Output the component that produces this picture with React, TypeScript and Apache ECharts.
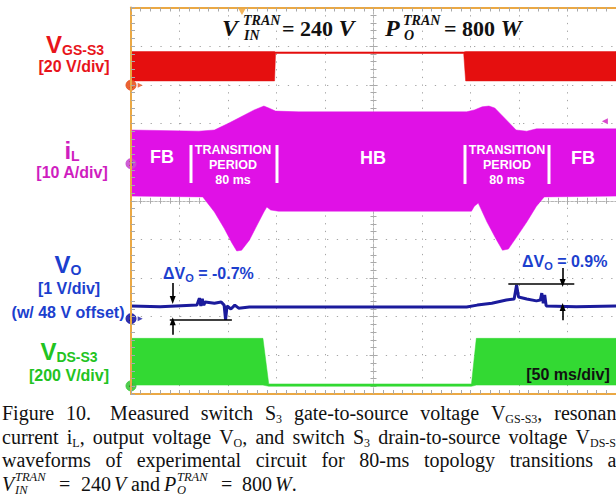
import React, { useEffect, useRef } from "react";
import * as echarts from "echarts";

// Horizontal axis: time in ms relative to the screen centre (50 ms/div, 10 div).
// Vertical axis: screen divisions, -5 (bottom) .. +5 (top).

// Ch1  V_GS-S3 envelope (20 V/div)
const vgsT = [-250, -102, -101, 93, 95, 250];
const vgsHi = [3.86, 3.86, 3.85, 3.85, 3.86, 3.86];
const vgsLo = [3.1, 3.1, 3.81, 3.81, 3.1, 3.1];

// Ch3  iL envelope (10 A/div)
const ilTopT = [-250, -180, -164, -149, -139, -123, -113, -108, -101, -77, 96, 104, 112, 119, 125, 132, 139, 147, 158, 168, 250];
const ilTop = [1.83, 1.8, 1.83, 2.01, 2.14, 2.35, 2.45, 2.4, 2.32, 2.3, 2.3, 2.35, 2.43, 2.45, 2.4, 2.22, 2.04, 1.83, 1.8, 1.86, 1.86];
const ilBotT = [-250, -176, -164, -154, -146, -141, -136, -128, -120, -113, -110, -106, -98, 101, 104, 108, 117, 127, 133, 139, 147, 158, 168, 176, 250];
const ilBot = [0.12, 0.1, -0.29, -0.71, -1.09, -1.3, -1.28, -1.02, -0.63, -0.29, -0.16, -0.24, -0.27, -0.27, -0.14, -0.06, -0.55, -1.02, -1.28, -1.25, -0.96, -0.55, -0.14, 0.1, 0.12];

// Ch2  Vo (1 V/div, 48 V offset)
const voT = [-250, -220, -182, -179.5, -178, -176.5, -175, -173.5, -164, -157, -154, -152.5, -151, -147, -143, -139, -128, -98, 0, 96, 107, 122, 137, 145, 147.5, 149.5, 158, 168, 172, 173.5, 175, 176.5, 178, 209, 250];
const voV = [-2.72, -2.74, -2.7, -2.52, -2.72, -2.54, -2.7, -2.62, -2.65, -2.62, -2.7, -3.08, -2.72, -2.8, -2.7, -2.78, -2.75, -2.75, -2.75, -2.75, -2.7, -2.65, -2.57, -2.54, -2.18, -2.49, -2.54, -2.59, -2.57, -2.39, -2.65, -2.44, -2.72, -2.74, -2.72];

// Ch4  V_DS-S3 envelope (200 V/div)
const vdsT = [-250, -114, -108, 101, 106, 250];
const vdsHi = [-3.56, -3.56, -4.74, -4.74, -3.56, -3.56];
const vdsLo = [-4.77, -4.77, -4.8, -4.8, -4.77, -4.77];

// channel ground markers
const markerLevels = [2.99, 0.96, -3.05, -4.79];
const markerNames = ["1", "3", "2", "4"];
const markerColors = ["#e8521e", "#c94bd0", "#1c1ca8", "#3cc83c"];

// ΔVo annotations
const spanT = [[-210, -146], [139, 207]];
const spanLevel = [-3.07, -2.16];
const arrowT = [-207, -207, 195, 195];
const arrowFrom = [-2.13, -3.47, -1.74, -3.09];
const arrowTo = [-2.57, -3.12, -2.13, -2.75];

const SANS = '"Liberation Sans", Arial, sans-serif';
const SERIF = '"Liberation Serif", "Times New Roman", serif';
const RED = "#e8141b";
const MAG = "#cf1dbf";
const BLUE = "#1c3fce";
const GREEN = "#22c322";
const ORANGE = "#eaa844";
const TICK = "#a9a9a9";

function bandSeries(topT: number[], top: number[], botT: number[], bot: number[], color: string, z: number) {
  return {
    type: "custom",
    coordinateSystem: "cartesian2d",
    xAxisIndex: 0,
    yAxisIndex: 0,
    silent: true,
    z,
    data: [[topT[0], top[0]]],
    renderItem: (_p: any, api: any) => {
      const pts: number[][] = [];
      for (let i = 0; i < topT.length; i++) pts.push(api.coord([topT[i], top[i]]));
      for (let i = botT.length - 1; i >= 0; i--) pts.push(api.coord([botT[i], bot[i]]));
      return { type: "polygon", shape: { points: pts }, style: { fill: color, stroke: color, lineWidth: 0.5 } };
    },
  };
}

function txt(x: number, y: number, text: string, rich: any, align = "center") {
  return { type: "text", x, y, z: 100, silent: true, style: { text, rich, textAlign: align, textVerticalAlign: "middle" } };
}

const richSans = (color: string) => ({
  v: { fontSize: 24, fontWeight: "bold", fontFamily: SANS, fill: color, lineHeight: 26 },
  s: { fontSize: 14, fontWeight: "bold", fontFamily: SANS, fill: color, lineHeight: 12, verticalAlign: "bottom" },
  a: { fontSize: 16, fontWeight: "bold", fontFamily: SANS, fill: color, lineHeight: 20 },
  d: { fontSize: 16, fontWeight: "bold", fontFamily: SANS, fill: color, lineHeight: 20 },
  ds: { fontSize: 11, fontWeight: "bold", fontFamily: SANS, fill: color, lineHeight: 10, verticalAlign: "bottom" },
});

const whiteRich = {
  b: { fontSize: 18, fontWeight: "bold", fontFamily: SANS, fill: "#fff" },
  t: { fontSize: 12.5, fontWeight: "bold", fontFamily: SANS, fill: "#fff" },
};

const titleRich = {
  i: { fontSize: 24, fontWeight: "bold", fontStyle: "italic", fontFamily: SERIF, fill: "#111", lineHeight: 26 },
  n: { fontSize: 22, fontWeight: "bold", fontFamily: SERIF, fill: "#111", lineHeight: 26 },
  k: { fontSize: 14, fontWeight: "bold", fontStyle: "italic", fontFamily: SERIF, fill: "#111", lineHeight: 11 },
};

const capRich = {
  m: { fontSize: 20, fontFamily: SERIF, fill: "#111", lineHeight: 24 },
  s: { fontSize: 12, fontFamily: SERIF, fill: "#111", lineHeight: 12, verticalAlign: "bottom" },
  i: { fontSize: 20, fontStyle: "italic", fontFamily: SERIF, fill: "#111", lineHeight: 20 },
  k: { fontSize: 12.5, fontStyle: "italic", fontFamily: SERIF, fill: "#111", lineHeight: 11 },
};

// caption words (justified lines)
const captionJustified: [string, string][][][] = [
  [[["m", "Figure"]], [["m", "10."]], [["m", "Measured"]], [["m", "switch"]], [["m", "S"], ["s", "3"]], [["m", "gate-to-source"]], [["m", "voltage"]], [["m", "V"], ["s", "GS-S3"], ["m", ","]], [["m", "resonant"]]],
  [[["m", "current"]], [["m", "i"], ["s", "L"], ["m", ","]], [["m", "output"]], [["m", "voltage"]], [["m", "V"], ["s", "O"], ["m", ","]], [["m", "and"]], [["m", "switch"]], [["m", "S"], ["s", "3"]], [["m", "drain-to-source"]], [["m", "voltage"]], [["m", "V"], ["s", "DS-S3"]]],
  [[["m", "waveforms"]], [["m", "of"]], [["m", "experimental"]], [["m", "circuit"]], [["m", "for"]], [["m", "80-ms"]], [["m", "topology"]], [["m", "transitions"]], [["m", "at"]]],
];
const captionY = [413, 436.5, 460, 484];

function captionElements() {
  const cv = document.createElement("canvas").getContext("2d") as CanvasRenderingContext2D;
  const fonts: any = { m: `20px ${SERIF}`, s: `12px ${SERIF}` };
  const wOf = (segs: [string, string][]) =>
    segs.reduce((a, [st, t]) => {
      cv.font = fonts[st];
      return a + cv.measureText(t).width;
    }, 0);
  const els: any[] = [];
  const L = 2, R = 622;
  captionJustified.forEach((words, li) => {
    const widths = words.map(wOf);
    const total = widths.reduce((a, b) => a + b, 0);
    const weights = words.map((_, i) => (i === 0 ? 0 : li === 0 && i === 2 ? 1.6 : 1));
    const wsum = weights.reduce((a, b) => a + b, 0);
    const gap = (R - L - total) / wsum;
    let x = L;
    words.forEach((segs, i) => {
      x += weights[i] * gap;
      els.push(txt(x, captionY[li], segs.map(([st, t]) => `{${st}|${t}}`).join(""), capRich, "left"));
      x += widths[i];
    });
  });
  const y4 = captionY[3];
  const line4: [number, number, string][] = [
    [2, y4, "{i|V}"], [15, y4 - 7, "{k|TRAN}"], [15, y4 + 6, "{k|IN}"], [59, y4, "{m|=}"], [81, y4, "{m|240}"], [114, y4, "{i|V}"],
    [131, y4, "{m|and}"], [164, y4, "{i|P}"], [177, y4 - 7, "{k|TRAN}"], [177, y4 + 6, "{k|O}"], [221, y4, "{m|=}"], [242, y4, "{m|800}"],
    [275, y4, "{i|W}{m|.}"],
  ];
  line4.forEach(([x, y, t]) => els.push(txt(x, y, t, capRich, "left")));
  return els;
}

function buildOption() {
  const borderX = (pos: string) => ({
    type: "value", min: -250, max: 250, interval: 50, position: pos, z: 10,
    axisLine: { show: true, onZero: false, lineStyle: { color: ORANGE, width: 2 } },
    axisTick: { show: true, inside: true, length: 4, lineStyle: { color: TICK } },
    minorTick: { show: true, splitNumber: 5, length: 4, lineStyle: { color: TICK } },
    axisLabel: { show: false }, splitLine: { show: false },
  });
  const centreX = (inside: boolean) => ({
    type: "value", min: -250, max: 250, interval: 50, position: "bottom", z: 0,
    axisLine: { show: true, onZero: true, onZeroAxisIndex: 0, lineStyle: { color: "#b5b5b5", width: 1, type: [2, 2] } },
    axisTick: { show: true, inside, length: 4, lineStyle: { color: TICK } },
    minorTick: { show: true, splitNumber: 5, length: 3, lineStyle: { color: TICK } },
    axisLabel: { show: false }, splitLine: { show: false },
  });
  const centreY = (inside: boolean) => ({
    type: "value", min: -5, max: 5, interval: 1, position: "left", z: 0,
    axisLine: { show: true, onZero: true, onZeroAxisIndex: 0, lineStyle: { color: "#b5b5b5", width: 1, type: [2, 2] } },
    axisTick: { show: true, inside, length: 4, lineStyle: { color: TICK } },
    minorTick: { show: true, splitNumber: 5, length: 3, lineStyle: { color: TICK } },
    axisLabel: { show: false }, splitLine: { show: false },
  });

  const markLineData: any[] = [];
  spanT.forEach(([a, b], i) => {
    markLineData.push([{ coord: [a, spanLevel[i]], symbol: "none" }, { coord: [b, spanLevel[i]], symbol: "none" }]);
  });
  arrowT.forEach((t, i) => {
    markLineData.push([{ coord: [t, arrowFrom[i]], symbol: "none" }, { coord: [t, arrowTo[i]], symbol: "triangle", symbolSize: [6, 8] }]);
  });

  const graphics: any[] = [
    // channel labels
    txt(75, 44, "{v|V}{s|GS-S3}", richSans(RED)),
    txt(74, 66, "{a|[20 V/div]}", richSans(RED)),
    txt(72, 150, "{v|i}{s|L}", richSans(MAG)),
    txt(72, 172, "{a|[10 A/div]}", richSans(MAG)),
    txt(68, 264, "{v|V}{s|O}", richSans(BLUE)),
    txt(69, 288, "{a|[1 V/div]}", richSans(BLUE)),
    txt(68, 312, "{a|(w/ 48 V offset)}", richSans(BLUE)),
    txt(69, 351, "{v|V}{s|DS-S3}", richSans(GREEN)),
    txt(69, 375, "{a|[200 V/div]}", richSans(GREEN)),
    // ΔVo annotations
    txt(163, 273, "{d|ΔV}{ds|O}{d| = -0.7%}", richSans(BLUE), "left"),
    txt(522, 261, "{d|ΔV}{ds|O}{d| = 0.9%}", richSans(BLUE), "left"),
    txt(568, 374, "{a|[50 ms/div]}", richSans("#111")),
    // white labels inside iL envelope
    txt(162, 157, "{b|FB}", whiteRich),
    txt(233, 150, "{t|TRANSITION}", whiteRich),
    txt(233, 165, "{t|PERIOD}", whiteRich),
    txt(233, 180, "{t|80 ms}", whiteRich),
    txt(373, 158, "{b|HB}", whiteRich),
    txt(507, 150, "{t|TRANSITION}", whiteRich),
    txt(507, 165, "{t|PERIOD}", whiteRich),
    txt(507, 180, "{t|80 ms}", whiteRich),
    txt(583, 158, "{b|FB}", whiteRich),
    { type: "rect", z: 100, silent: true, shape: { x: 189.5, y: 145, width: 3, height: 38 }, style: { fill: "#fff" } },
    { type: "rect", z: 100, silent: true, shape: { x: 275.5, y: 145, width: 3, height: 38 }, style: { fill: "#fff" } },
    { type: "rect", z: 100, silent: true, shape: { x: 463.5, y: 145, width: 3, height: 39 }, style: { fill: "#fff" } },
    { type: "rect", z: 100, silent: true, shape: { x: 547.5, y: 145, width: 3, height: 39 }, style: { fill: "#fff" } },
    // title
    txt(222, 28, "{i|V}", titleRich, "left"),
    txt(243, 20, "{k|TRAN}", titleRich, "left"),
    txt(244, 35, "{k|IN}", titleRich, "left"),
    txt(282, 28, "{n|= 240 }{i|V}", titleRich, "left"),
    txt(385, 28, "{i|P}", titleRich, "left"),
    txt(403, 20, "{k|TRAN}", titleRich, "left"),
    txt(404, 35, "{k|O}", titleRich, "left"),
    txt(444, 28, "{n|= 800 }{i|W}", titleRich, "left"),
    ...captionElements(),
  ];

  return {
    animation: false,
    backgroundColor: "#fff",
    grid: { left: 131, top: 7.5, width: 489.4, height: 386.5, containLabel: false },
    xAxis: [
      {
        type: "value", min: -250, max: 250, interval: 50, position: "bottom", z: 0,
        axisLine: { show: false, onZero: false }, axisTick: { show: false }, axisLabel: { show: false },
        splitLine: { show: true, lineStyle: { color: "#a6a6a6", width: 1, type: [1.3, 6.4] } },
      },
      borderX("top"),
      borderX("bottom"),
      centreX(true),
      centreX(false),
    ],
    yAxis: [
      {
        type: "value", min: -5, max: 5, interval: 1, position: "left", z: 0,
        axisLine: { show: false, onZero: false }, axisTick: { show: false }, axisLabel: { show: false },
        splitLine: { show: true, lineStyle: { color: "#a6a6a6", width: 1, type: [1.3, 8.5] } },
      },
      {
        type: "value", min: -5, max: 5, interval: 1, position: "left", z: 10,
        axisLine: { show: true, onZero: false, lineStyle: { color: ORANGE, width: 2 } },
        axisTick: { show: true, inside: true, length: 4, lineStyle: { color: TICK } },
        minorTick: { show: true, splitNumber: 5, length: 4, lineStyle: { color: TICK } },
        axisLabel: { show: false }, splitLine: { show: false },
      },
      centreY(true),
      centreY(false),
    ],
    series: [
      bandSeries(vgsT, vgsHi, vgsT, vgsLo, "#e50f0f", 2),
      bandSeries(ilTopT, ilTop, ilBotT, ilBot, "#e011e6", 2),
      bandSeries(vdsT, vdsHi, vdsT, vdsLo, "#33d933", 2),
      {
        type: "line", xAxisIndex: 0, yAxisIndex: 0, z: 4, silent: true,
        data: voT.map((t, i) => [t, voV[i]]),
        showSymbol: false, symbol: "none",
        lineStyle: { color: "#1b1b9c", width: 3 },
        markLine: {
          silent: true, symbol: ["none", "none"], label: { show: false },
          lineStyle: { color: "#000", width: 1.6, type: "solid" },
          emphasis: { disabled: true },
          data: markLineData,
        },
      },
      {
        type: "scatter", xAxisIndex: 0, yAxisIndex: 0, z: 6, silent: true, clip: false,
        symbol: "circle", symbolSize: 10,
        data: markerLevels.map((lv, i) => ({
          value: [-250, lv],
          itemStyle: { color: markerColors[i], borderColor: markerColors[i], borderWidth: 1, opacity: 0.9 },
          label: { show: true, formatter: markerNames[i], position: "inside", fontSize: 7, color: "#222", fontFamily: SANS },
        })),
      },
      {
        type: "scatter", xAxisIndex: 0, yAxisIndex: 0, z: 6, silent: true, clip: false,
        symbol: "triangle",
        data: [
          { value: [-240.5, markerLevels[0]], symbolRotate: -90, symbolSize: [5, 5], itemStyle: { color: markerColors[0] } },
          { value: [-240.5, markerLevels[2]], symbolRotate: -90, symbolSize: [5, 5], itemStyle: { color: markerColors[2] } },
          { value: [-135.6, 5], symbolRotate: 180, symbolSize: [8, 7], symbolOffset: [0, 4], itemStyle: { color: "#f0a030" } },
          { value: [238.5, 2.06], symbolRotate: 90, symbolSize: [6, 6], itemStyle: { color: MAG } },
        ],
      },
    ],
    graphic: { elements: graphics },
  };
}

export default function App() {
  const ref = useRef<HTMLDivElement>(null);
  useEffect(() => {
    const chart = echarts.init(ref.current as HTMLDivElement, null, { renderer: "svg" });
    chart.setOption(buildOption() as any);
    return () => chart.dispose();
  }, []);
  return <div ref={ref} style={{ position: "absolute", left: 0, top: 0, width: 616, height: 497, background: "#fff" }} />;
}
